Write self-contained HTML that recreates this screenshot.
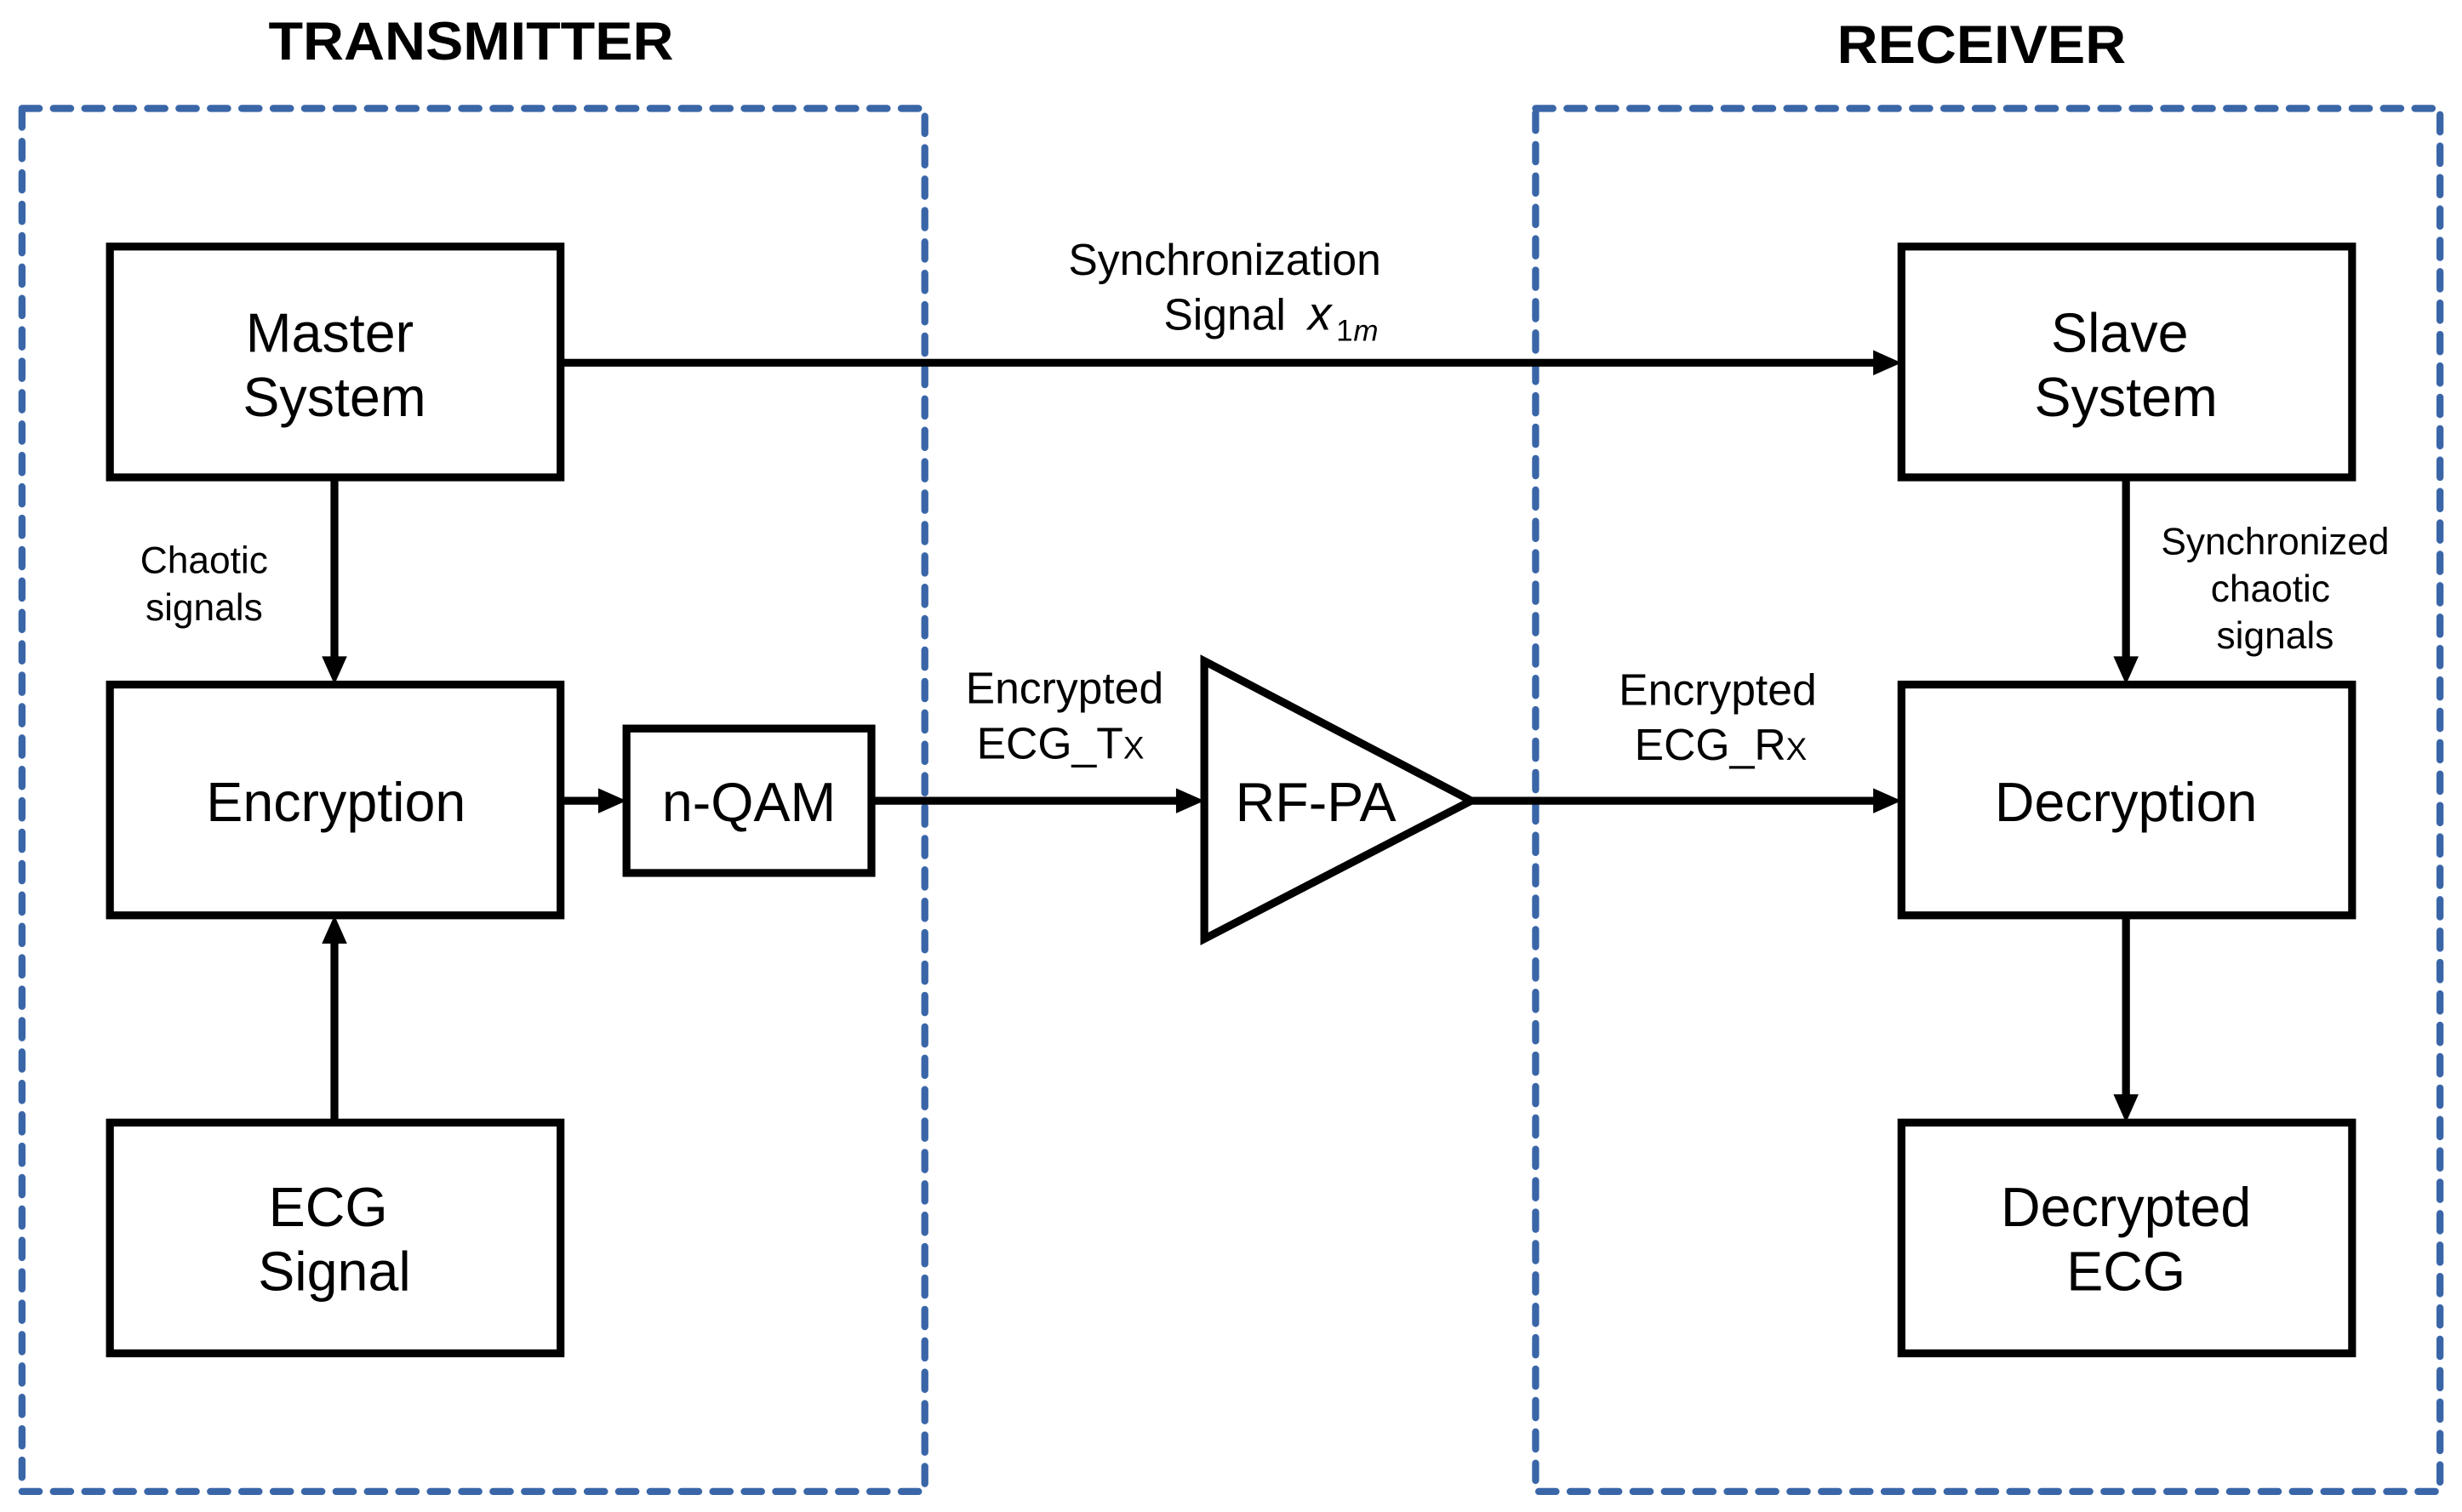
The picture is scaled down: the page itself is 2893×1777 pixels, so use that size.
<!DOCTYPE html>
<html><head><meta charset="utf-8"><style>
html,body{margin:0;padding:0;background:#fff;}
svg{display:block;}
text{font-family:"Liberation Sans",sans-serif;fill:#000;}
</style></head><body>
<svg width="2893" height="1777" viewBox="0 0 1568 963" xmlns="http://www.w3.org/2000/svg">
<defs>
<marker id="a" markerWidth="17" markerHeight="16" refX="10" refY="5" orient="auto" markerUnits="userSpaceOnUse" viewBox="0 0 10 10">
<path d="M0,0 L10,5 L0,10 z" fill="#000"/>
</marker>
</defs>
<rect width="1568" height="963" fill="#fff"/>
<text x="300" y="38" font-size="34" font-weight="bold" text-anchor="middle" textLength="258" lengthAdjust="spacingAndGlyphs">TRANSMITTER</text>
<text x="1262" y="40" font-size="34" font-weight="bold" text-anchor="middle" textLength="184" lengthAdjust="spacingAndGlyphs">RECEIVER</text>
<g fill="none" stroke="#3a66a8" stroke-width="4.5" stroke-dasharray="11 9" stroke-linecap="round">
<rect x="14" y="69" width="575" height="881"/>
<rect x="978" y="69" width="576" height="881"/>
</g>
<g fill="none" stroke="#000" stroke-width="5">
<rect x="70" y="157" width="287" height="147"/>
<rect x="70" y="436" width="287" height="147"/>
<rect x="70" y="715" width="287" height="147"/>
<rect x="399" y="464" width="156" height="92"/>
<rect x="1211" y="157" width="287" height="147"/>
<rect x="1211" y="436" width="287" height="147"/>
<rect x="1211" y="715" width="287" height="147"/>
<path d="M767,421 L767,598 L937,510 Z" stroke-linejoin="miter"/>
</g>
<g stroke="#000" stroke-width="5" fill="none">
<line x1="357" y1="231" x2="1200" y2="231"/>
<line x1="213" y1="304" x2="213" y2="425"/>
<line x1="213" y1="715" x2="213" y2="594"/>
<line x1="357" y1="510" x2="388" y2="510"/>
<line x1="555" y1="510" x2="756" y2="510"/>
<line x1="937" y1="510" x2="1200" y2="510"/>
<line x1="1354" y1="304" x2="1354" y2="425"/>
<line x1="1354" y1="583" x2="1354" y2="704"/>
</g>
<g fill="#000">
<path d="M1211,231 l-18,-8 v16 z"/>
<path d="M213,436 l-8,-18 h16 z"/>
<path d="M213,583 l-8,18 h16 z"/>
<path d="M399,510 l-18,-8 v16 z"/>
<path d="M767,510 l-18,-8 v16 z"/>
<path d="M1211,510 l-18,-8 v16 z"/>
<path d="M1354,436 l-8,-18 h16 z"/>
<path d="M1354,715 l-8,-18 h16 z"/>
</g>
<g font-size="35" text-anchor="middle">
<text x="210" y="224">Master</text>
<text x="213" y="265">System</text>
<text x="214" y="523">Encryption</text>
<text x="209" y="781">ECG</text>
<text x="213" y="822">Signal</text>
<text x="477" y="523">n-QAM</text>
<text x="838" y="523">RF-PA</text>
<text x="1350" y="224">Slave</text>
<text x="1354" y="265">System</text>
<text x="1354" y="523">Decryption</text>
<text x="1354" y="781">Decrypted</text>
<text x="1354" y="822">ECG</text>
</g>
<g font-size="28" text-anchor="middle">
<text x="780" y="175">Synchronization</text>
<text x="780" y="210">Signal</text>
<text x="678" y="448">Encrypted</text>
<text x="1094" y="449">Encrypted</text>
</g>
<text x="833" y="210" font-size="30" font-style="italic" font-family="Liberation Serif,serif">x</text>
<text x="851" y="217" font-size="19" font-family="Liberation Serif,serif">1</text>
<text x="862" y="217" font-size="19" font-style="italic" font-family="Liberation Serif,serif">m</text>
<text x="622" y="483" font-size="28">ECG_T<tspan font-size="20">X</tspan></text>
<text x="1041" y="484" font-size="28">ECG_R<tspan font-size="20">X</tspan></text>
<g font-size="24" text-anchor="middle">
<text x="130" y="365">Chaotic</text>
<text x="130" y="395">signals</text>
<text x="1449" y="353">Synchronized</text>
<text x="1446" y="383">chaotic</text>
<text x="1449" y="413">signals</text>
</g>
</svg>
</body></html>
